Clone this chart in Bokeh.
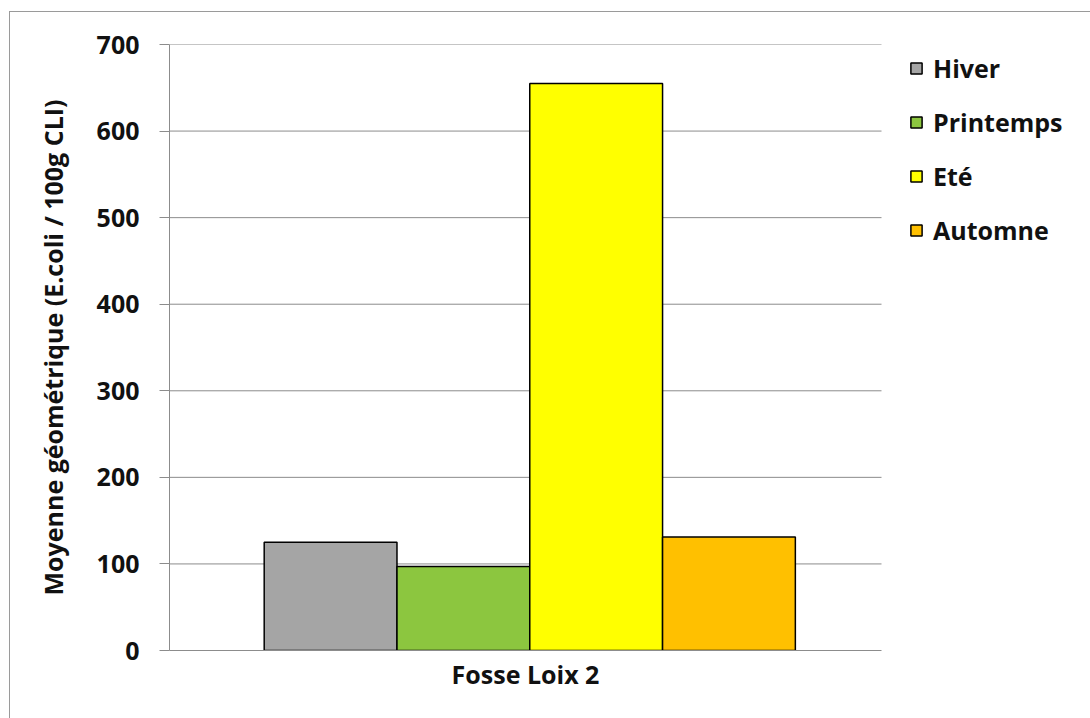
from bokeh.plotting import figure
from bokeh.models import Range1d, Legend, LegendItem, FixedTicker, ColumnDataSource
from bokeh.embed import file_html
from bokeh.resources import INLINE

# Données : moyenne géométrique par saison
site = ["Fosse Loix 2"]
seasons = ["Hiver", "Printemps", "Eté", "Automne"]
values = [125, 97, 655, 131]
colors = ["#a5a5a5", "#8cc63f", "#ffff00", "#ffc000"]
y_ticks = [0, 100, 200, 300, 400, 500, 600, 700]

FONT = "Open Sans"
GRID = "#8c8c8c"
TEXT = "#111111"

# Le groupe occupe l'intervalle [0, 2] de l'axe X ; la partie droite du cadre
# est réservée à la légende.
GROUP_START, GROUP_END = 0, 2
CENTER = 1
X_END = 2 * 922 / 712

p = figure(
    width=1081, height=707,
    x_range=Range1d(GROUP_START, X_END),
    y_range=Range1d(0, 700),
    output_backend="svg", toolbar_location=None,
    min_border_left=159, min_border_right=0,
    min_border_top=32, min_border_bottom=69,
)
p.margin = (11, 0, 0, 9)
p.styles = {"border-left": "1px solid #9a9a9a", "border-top": "1px solid #9a9a9a"}
p.outline_line_color = None
p.background_fill_color = "white"
p.border_fill_color = "white"

# Lignes de quadrillage horizontales limitées à la zone du groupe
grid_src = ColumnDataSource(dict(y=y_ticks[1:]))
p.segment(x0=GROUP_START, x1=GROUP_END, y0="y", y1="y", source=grid_src,
          line_color=GRID, line_width=1)
p.xgrid.grid_line_color = None
p.ygrid.grid_line_color = None

bar_w = 0.373
n = len(seasons)
items = []
for i, (s, v, c) in enumerate(zip(seasons, values, colors)):
    src = ColumnDataSource(dict(x=[CENTER + (i - (n - 1) / 2) * bar_w + 0.012], top=[v]))
    r = p.vbar(x="x", top="top", width=bar_w, source=src,
               fill_color=c, line_color="black", line_width=1.5)
    items.append(LegendItem(label=s, renderers=[r]))

# Axe Y
p.yaxis.ticker = FixedTicker(ticks=y_ticks)
p.yaxis.axis_line_color = GRID
p.yaxis.major_tick_line_color = GRID
p.yaxis.major_tick_out = 10
p.yaxis.major_tick_in = 0
p.yaxis.minor_tick_line_color = None
p.yaxis.major_label_standoff = 20
p.yaxis.major_label_text_font = FONT
p.yaxis.major_label_text_font_style = "bold"
p.yaxis.major_label_text_font_size = "25px"
p.yaxis.major_label_text_color = TEXT
p.yaxis.axis_label = "Moyenne géométrique (E.coli / 100g CLI)"
p.yaxis.axis_label_text_font = FONT
p.yaxis.axis_label_text_font_style = "bold"
p.yaxis.axis_label_text_font_size = "25px"
p.yaxis.axis_label_text_color = TEXT
p.yaxis.axis_label_standoff = 24

# Axe X : une seule étiquette de site, au centre du groupe
p.xaxis.ticker = FixedTicker(ticks=[CENTER])
p.xaxis.major_label_overrides = {CENTER: site[0]}
p.xaxis.bounds = (GROUP_START, GROUP_END)
p.xaxis.axis_line_color = GRID
p.xaxis.major_tick_line_color = None
p.xaxis.minor_tick_line_color = None
p.xaxis.major_label_standoff = 0
p.xaxis.major_label_text_font = FONT
p.xaxis.major_label_text_font_style = "bold"
p.xaxis.major_label_text_font_size = "25px"
p.xaxis.major_label_text_color = TEXT

legend = Legend(
    items=items, location=(740, 403), orientation="vertical",
    glyph_width=14, glyph_height=14, spacing=20,
    padding=0, margin=0, label_standoff=10,
    label_text_font=FONT, label_text_font_style="bold",
    label_text_font_size="25px", label_text_color=TEXT,
    border_line_color=None, background_fill_alpha=0,
)
p.add_layout(legend, "center")

open("out.html", "w").write(file_html(p, INLINE))
